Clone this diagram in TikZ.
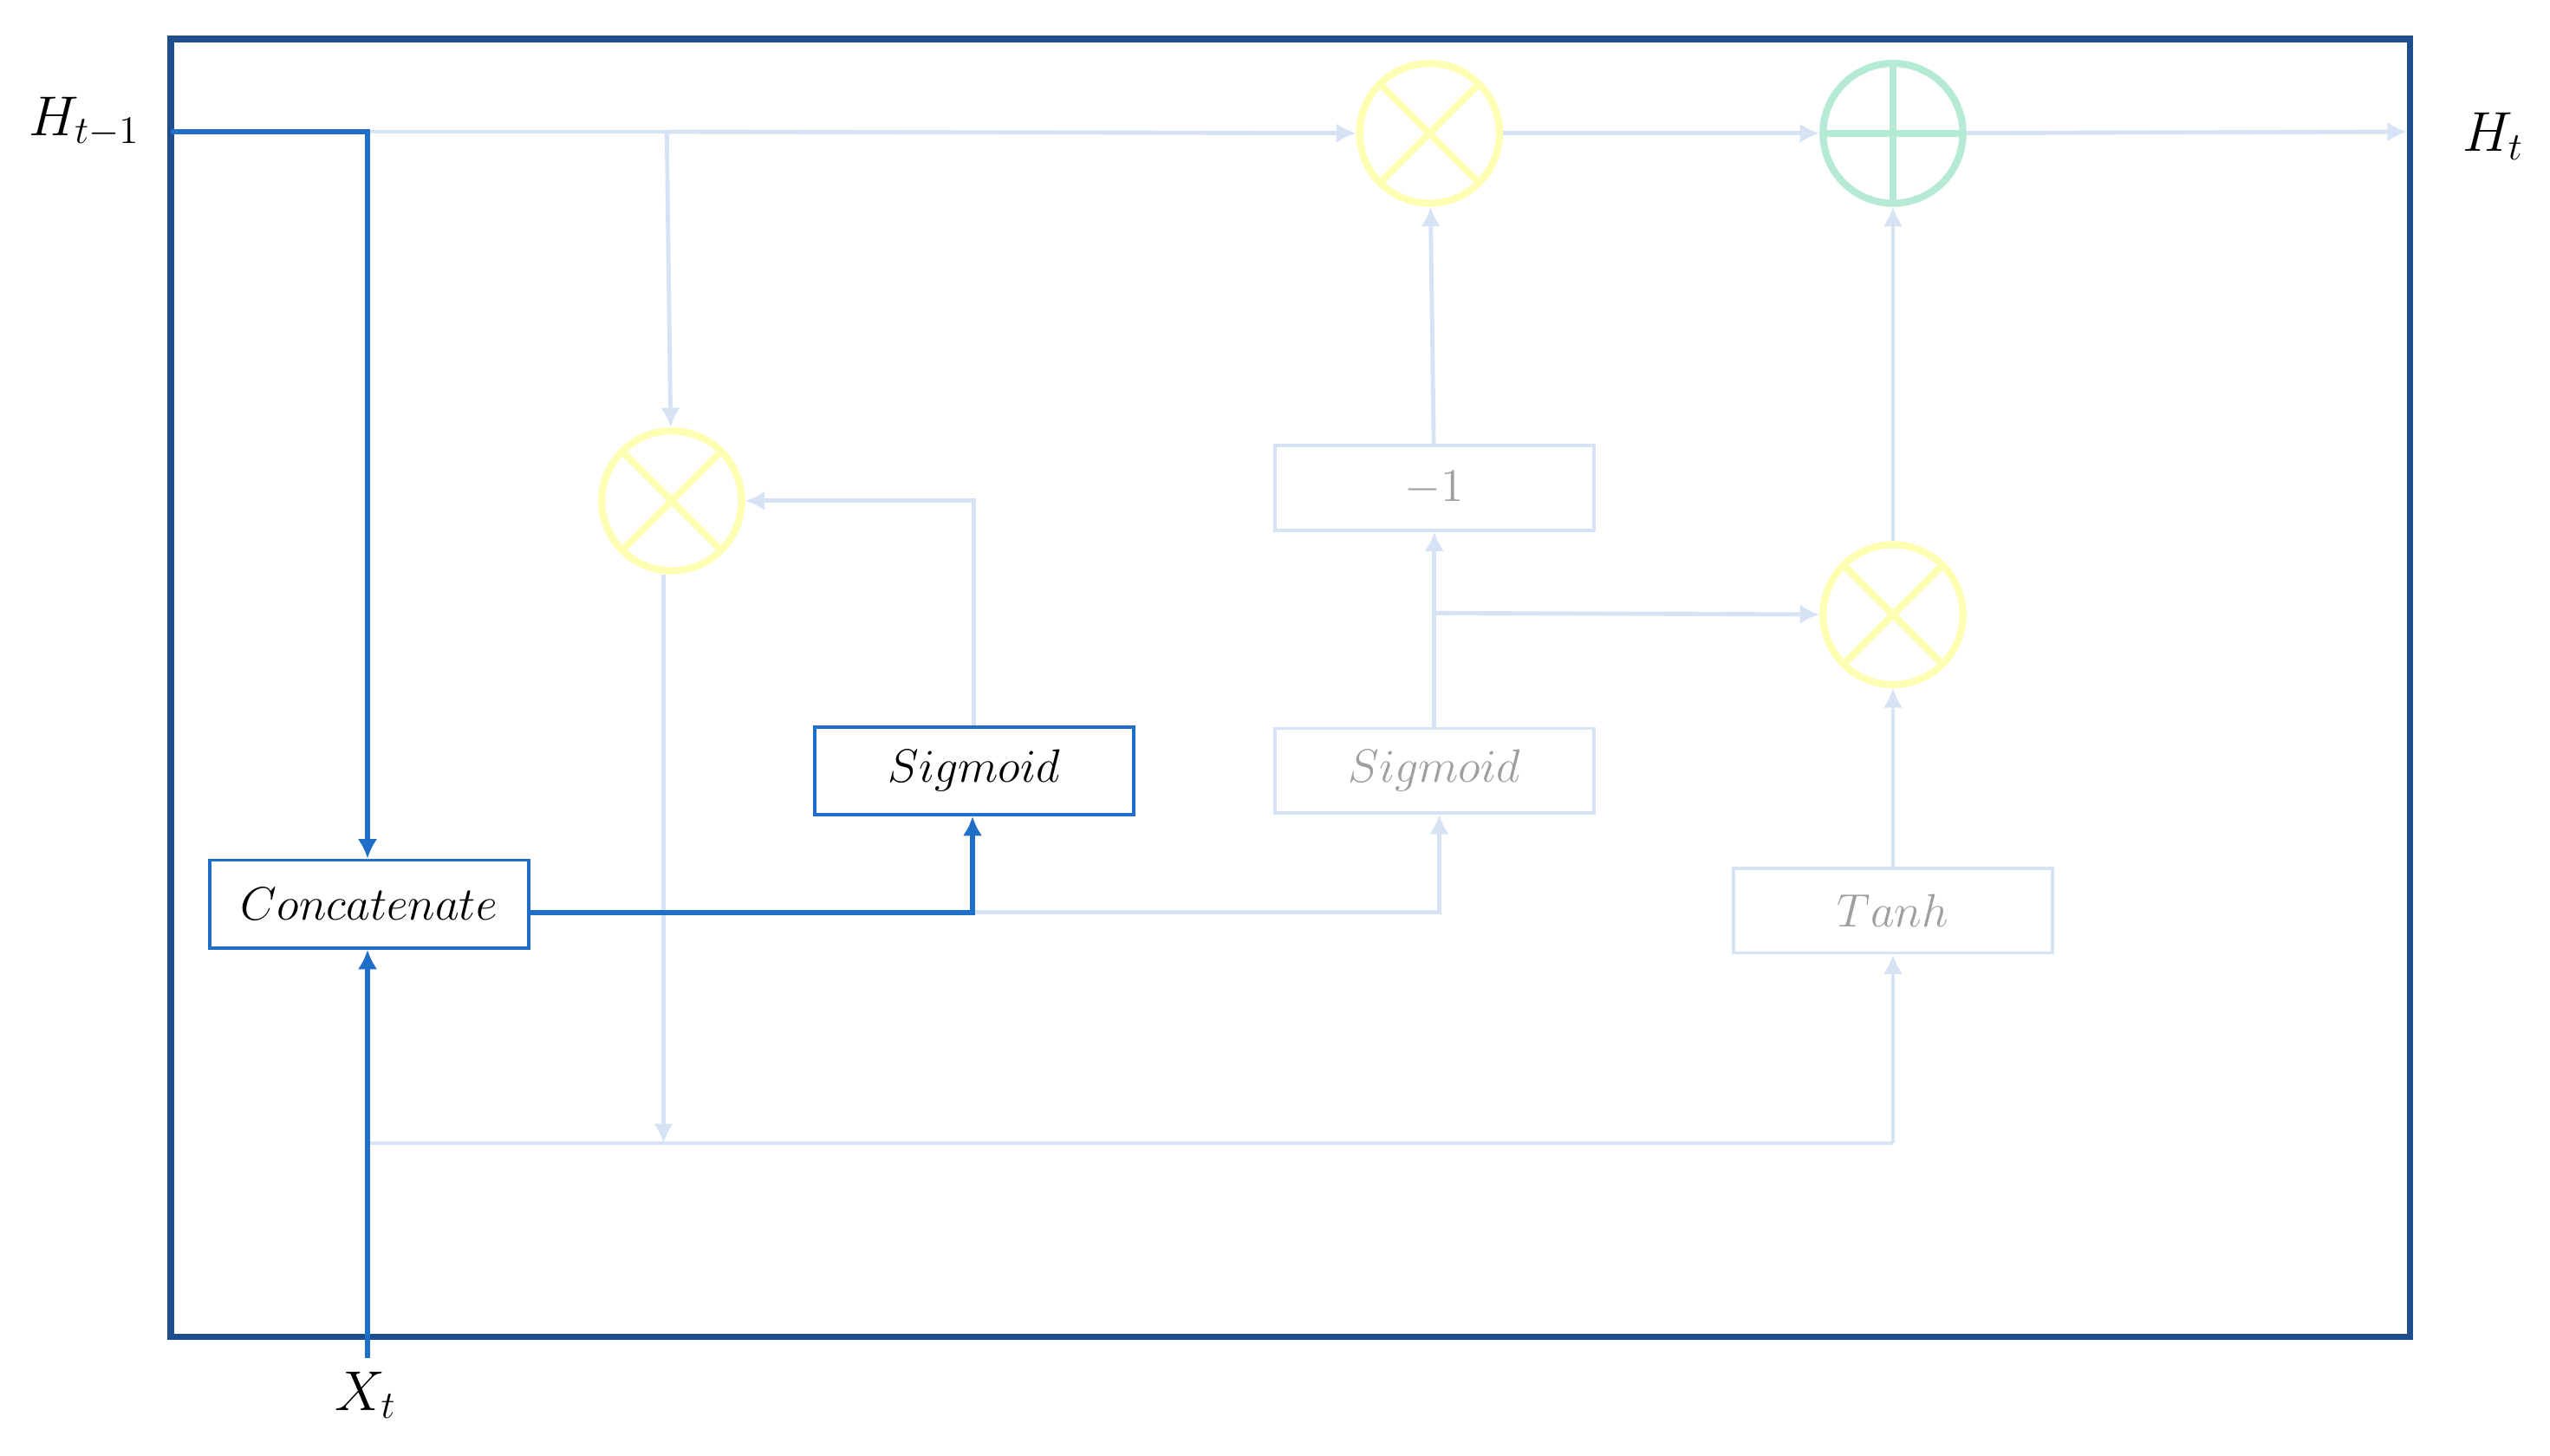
\documentclass[tikz,border=0pt]{standalone}
\usetikzlibrary{arrows.meta}
\begin{document}
\begin{tikzpicture}[x=0.5pt,y=-0.5pt,
  every node/.style={font=\fontsize{14.5}{17}\selectfont},
  dk/.style={draw=dkline,line width=1.6pt,-{Latex[length=6pt,width=6pt]}},
  lt/.style={draw=ltline,line width=1.3pt,-{Latex[length=6pt,width=6pt]}},
  ltn/.style={draw=ltline,line width=1.3pt},
  box/.style={draw=ltline,line width=1pt,minimum width=98pt,minimum height=26pt,inner sep=0pt,text=gray!75},
  dbox/.style={draw=dkline,line width=1pt,minimum width=98pt,minimum height=27pt,inner sep=0pt},
  mul/.style={circle,draw=ylw,line width=2.2pt,minimum size=43pt,inner sep=0pt,path picture={
     \draw[ylw,line width=2.2pt] (path picture bounding box.north west)--(path picture bounding box.south east)
       (path picture bounding box.north east)--(path picture bounding box.south west);}},
  add/.style={circle,draw=grn,line width=2.2pt,minimum size=43pt,inner sep=0pt,path picture={
     \draw[grn,line width=2.2pt] (path picture bounding box.north)--(path picture bounding box.south)
       (path picture bounding box.east)--(path picture bounding box.west);}}]
\definecolor{dkline}{HTML}{1F6FC8}
\definecolor{frame}{HTML}{1F4E8F}
\definecolor{ltline}{HTML}{D6E3F5}
\definecolor{ylw}{HTML}{FFFFB3}
\definecolor{grn}{HTML}{B5EBD5}
\useasboundingbox (0,0) rectangle (1568,895);
\draw[frame,line width=1.9pt] (105,24) rectangle (1482,822);
\node[font=\fontsize{17}{20}\selectfont] (hin) at (52,75) {$H_{t-1}$};
\node[font=\fontsize{17}{20}\selectfont] (hout) at (1533,84) {$H_t$};
\node[font=\fontsize{17}{20}\selectfont] (xt) at (225,858) {$X_t$};
\node[dbox] (cat) at (227,556) {$Concatenate$};
\node[dbox] (s1) at (599,474) {$Sigmoid$};
\node[box] (s2) at (882,474) {$Sigmoid$};
\node[box] (m1b) at (882,300) {$-1$};
\node[box] (tanh) at (1164,560) {$Tanh$};
\node[mul] (m1) at (413,308) {};
\node[mul] (m2) at (879,82) {};
\node[mul] (m3) at (1164,378) {};
\node[add] (p) at (1164,82) {};
\coordinate (a) at (105,81);
\coordinate (b) at (226,81);
\coordinate (br) at (410,81);
\coordinate (end) at (1480,81);
\coordinate (c1) at (598,561);
\coordinate (c2) at (885,561);
\coordinate (j) at (882,377);
\coordinate (xb) at (226,835);
\coordinate (bl) at (226,703);
\coordinate (bm) at (408,703);
\coordinate (br2) at (1164,703);
% light lines
\draw[ltn] (b) -- (br);
\draw[lt] (br) -- (m2);
\draw[lt] (br) -- (m1);
\draw[lt] (m2) -- (p);
\draw[lt] (p) -- (end);
\draw[lt] (c1) -- (c2) -- (s2.south -| c2);
\draw[lt] (s1.north) |- (m1);
\draw[lt] (s2) -- (m1b);
\draw[lt] (j) -- (m3);
\draw[lt] (m1b) -- (m2);
\draw[lt] (m1.south -| bm) -- (bm);
\draw[ltn] (bl) -- (br2);
\draw[lt] (br2) -- (tanh);
\draw[lt] (tanh) -- (m3);
\draw[lt] (m3) -- (p);
% dark lines
\draw[dk] (a) -- (b) -- (cat.north -| b);
\draw[dk] (xb) -- (cat.south -| xb);
\draw[dk] (cat.east |- c1) -- (c1) -- (s1.south -| c1);
\end{tikzpicture}
\end{document}
